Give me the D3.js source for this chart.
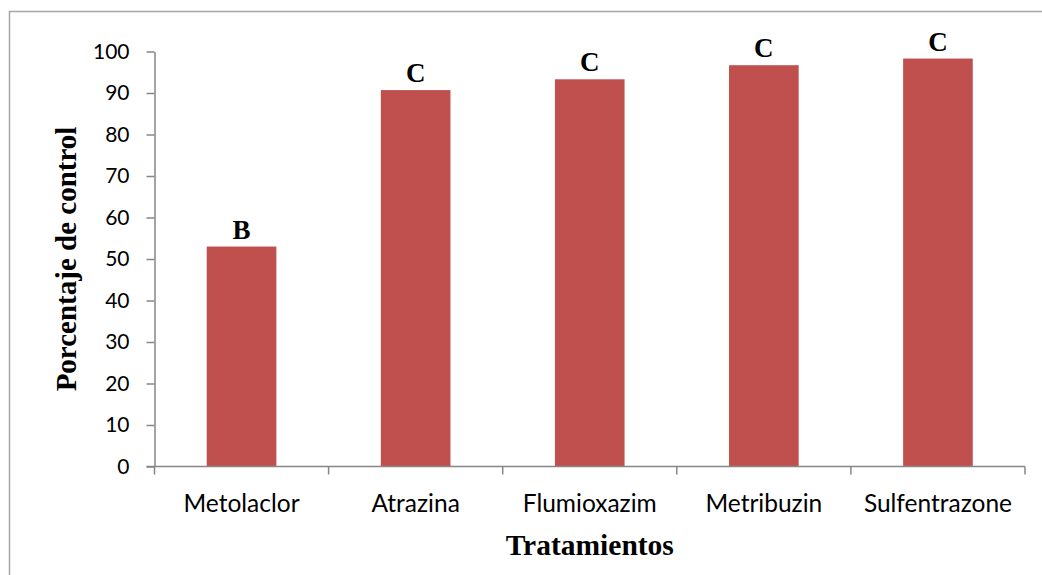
<!DOCTYPE html>
<html>
<head>
<meta charset="utf-8">
<script src="https://cdn.jsdelivr.net/npm/d3@7"></script>
<style>
  html, body { margin: 0; padding: 0; background: #fff; }
  svg { display: block; }
</style>
</head>
<body>
<svg id="chart" width="1042" height="575"></svg>
<script>
// Weed control by herbicide treatment
const categories = ["Metolaclor", "Atrazina", "Flumioxazim", "Metribuzin", "Sulfentrazone"];
const values = [53.0, 90.7, 93.3, 96.7, 98.3];
const groups = ["B", "C", "C", "C", "C"];
const yTicks = [0, 10, 20, 30, 40, 50, 60, 70, 80, 90, 100];

const svg = d3.select("#chart");
const W = 1042, H = 575;
const plot = { left: 154.5, right: 1025, top: 51.5, bottom: 466.5 };
const axisColor = "#868686";
const sansFont = "Lato, 'Open Sans', sans-serif";
const serifFont = "'Liberation Serif', 'DejaVu Serif', serif";

// outer chart frame
svg.append("rect")
  .attr("x", 9.5).attr("y", 11.5)
  .attr("width", W + 20).attr("height", H + 20)
  .attr("fill", "#fff")
  .attr("stroke", "#a6a6a6")
  .attr("stroke-width", 1.5);

const x = d3.scaleBand()
  .domain(categories)
  .range([plot.left, plot.right])
  .paddingInner(0.6)
  .paddingOuter(0.3);

const y = d3.scaleLinear()
  .domain([0, 100])
  .range([plot.bottom, plot.top]);

// bars
svg.append("g")
  .selectAll("rect")
  .data(categories)
  .join("rect")
  .attr("x", d => x(d))
  .attr("width", x.bandwidth())
  .attr("y", (d, i) => y(values[i]))
  .attr("height", (d, i) => y(0) - y(values[i]))
  .attr("fill", "#C0504D");

// significance letters
svg.append("g")
  .selectAll("text")
  .data(categories)
  .join("text")
  .attr("x", d => x(d) + x.bandwidth() / 2)
  .attr("y", (d, i) => y(values[i]) - 8)
  .attr("text-anchor", "middle")
  .attr("font-family", serifFont)
  .attr("font-weight", "bold")
  .attr("font-size", 27)
  .attr("fill", "#000")
  .text((d, i) => groups[i]);

// y axis
const yAxis = svg.append("g")
  .attr("transform", `translate(${plot.left},0)`)
  .call(d3.axisLeft(y).tickValues(yTicks).tickSize(8).tickPadding(17).tickSizeOuter(0));
yAxis.select(".domain").attr("stroke", axisColor).attr("stroke-width", 1.5);
yAxis.selectAll(".tick line").attr("stroke", axisColor).attr("stroke-width", 1.5);
yAxis.selectAll(".tick text")
  .attr("font-family", sansFont)
  .attr("font-size", 21)
  .attr("fill", "#000");

// x axis with ticks on the category boundaries
const xAxisG = svg.append("g")
  .attr("transform", `translate(0,${plot.bottom})`);
xAxisG.append("line")
  .attr("x1", plot.left - 8).attr("x2", plot.right)
  .attr("stroke", axisColor).attr("stroke-width", 1.5);
const bounds = categories.map(d => x(d) - x.step() * x.paddingInner() / 2);
bounds.push(plot.right);
xAxisG.selectAll("line.bound")
  .data(bounds)
  .join("line")
  .attr("class", "bound")
  .attr("x1", d => d).attr("x2", d => d)
  .attr("y1", 0).attr("y2", 8)
  .attr("stroke", axisColor).attr("stroke-width", 1.5);
xAxisG.selectAll("text")
  .data(categories)
  .join("text")
  .attr("x", d => x(d) + x.bandwidth() / 2)
  .attr("y", 45)
  .attr("text-anchor", "middle")
  .attr("font-family", sansFont)
  .attr("font-size", 24.5)
  .attr("fill", "#000")
  .text(d => d);

// axis titles
svg.append("text")
  .attr("x", (plot.left + plot.right) / 2)
  .attr("y", 555)
  .attr("text-anchor", "middle")
  .attr("font-family", serifFont)
  .attr("font-weight", "bold")
  .attr("font-size", 29.5)
  .attr("fill", "#000")
  .text("Tratamientos");

svg.append("text")
  .attr("transform", `translate(76,${(plot.top + plot.bottom) / 2}) rotate(-90)`)
  .attr("text-anchor", "middle")
  .attr("font-family", serifFont)
  .attr("font-weight", "bold")
  .attr("font-size", 29)
  .attr("fill", "#000")
  .text("Porcentaje de control");
</script>
</body>
</html>
